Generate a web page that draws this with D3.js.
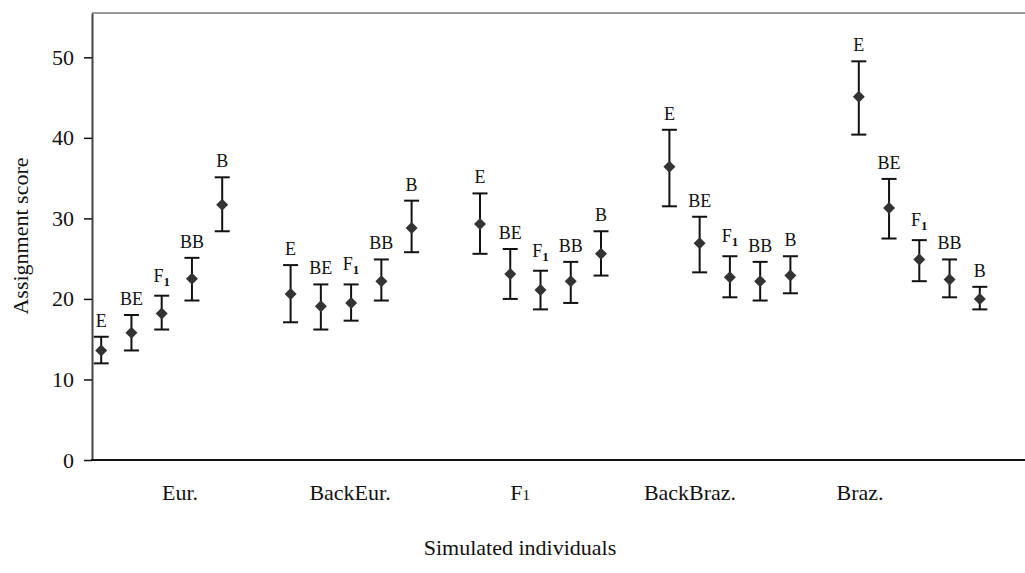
<!DOCTYPE html>
<html>
<head>
<meta charset="utf-8">
<script src="https://cdn.jsdelivr.net/npm/d3@7"></script>
<style>
  body { margin: 0; background: #fff; }
  text { font-family: "Liberation Serif", "Times New Roman", serif; fill: #111; }
</style>
</head>
<body>
<svg width="1025" height="573"></svg>
<script>
const width = 1025;
const height = 573;

// groups on the x axis and the five individuals inside each group
const groups = ['Eur.', 'BackEur.', 'F1', 'BackBraz.', 'Braz.'];
const levels = ['E', 'BE', 'F1', 'BB', 'B'];

// mean assignment score and error bar ends (order = levels)
const eurMean  = [13.6, 15.8, 18.2, 22.5, 31.7];
const eurLow   = [12.0, 13.6, 16.2, 19.8, 28.4];
const eurHigh  = [15.3, 18.0, 20.4, 25.1, 35.1];

const backEurMean = [20.6, 19.1, 19.5, 22.2, 28.8];
const backEurLow  = [17.1, 16.2, 17.3, 19.8, 25.8];
const backEurHigh = [24.2, 21.8, 21.8, 24.9, 32.2];

const f1Mean = [29.3, 23.1, 21.1, 22.2, 25.6];
const f1Low  = [25.6, 20.0, 18.7, 19.5, 22.9];
const f1High = [33.1, 26.2, 23.5, 24.6, 28.4];

const backBrazMean = [36.4, 26.9, 22.7, 22.2, 22.9];
const backBrazLow  = [31.5, 23.3, 20.2, 19.8, 20.7];
const backBrazHigh = [41.0, 30.2, 25.3, 24.6, 25.3];

const brazMean = [45.1, 31.3, 24.9, 22.4, 20.0];
const brazLow  = [40.4, 27.5, 22.2, 20.2, 18.7];
const brazHigh = [49.5, 34.9, 27.3, 24.9, 21.5];

const yTicks = [0, 10, 20, 30, 40, 50];

const series = [
    [eurMean, eurLow, eurHigh],
    [backEurMean, backEurLow, backEurHigh],
    [f1Mean, f1Low, f1High],
    [backBrazMean, backBrazLow, backBrazHigh],
    [brazMean, brazLow, brazHigh]
];

const data = [];
groups.forEach((g, gi) => {
    levels.forEach((l, li) => {
        data.push({
            group: g,
            level: l,
            mean: series[gi][0][li],
            low: series[gi][1][li],
            high: series[gi][2][li]
        });
    });
});

const svg = d3.select('svg');

const plotLeft = 92;
const plotTop = 13;
const plotBottom = 460;

const yScale = d3.scaleLinear()
    .domain([0, 55.5])
    .range([plotBottom, plotTop]);

// where the markers sit
const xGroup = d3.scaleBand()
    .domain(groups)
    .range([67, 1014])
    .padding(0);

const xInner = d3.scalePoint()
    .domain(levels)
    .range([-60.5, 60.5]);

// the category labels are spaced a bit tighter than the marker groups
const xLabel = d3.scaleBand()
    .domain(groups)
    .range([95, 945]);

const xPos = d => xGroup(d.group) + xGroup.bandwidth() / 2 + xInner(d.level);

// frame
svg.append('line')
    .attr('x1', plotLeft).attr('x2', width)
    .attr('y1', plotTop).attr('y2', plotTop)
    .attr('stroke', '#999').attr('stroke-width', 2);

const yAxis = d3.axisLeft(yScale)
    .tickValues(yTicks)
    .tickSize(8)
    .tickSizeOuter(0)
    .tickPadding(10);

const yAxisG = svg.append('g')
    .attr('transform', 'translate(' + plotLeft + ', 0)')
    .call(yAxis);

yAxisG.select('.domain').attr('stroke', '#444').attr('stroke-width', 2);
yAxisG.selectAll('.tick line').attr('stroke', '#111').attr('stroke-width', 1.5);
yAxisG.selectAll('.tick text')
    .attr('font-size', 22)
    .attr('font-family', '"Liberation Serif", "Times New Roman", serif')
    .attr('fill', '#111');

svg.append('line')
    .attr('x1', plotLeft - 1).attr('x2', width)
    .attr('y1', plotBottom).attr('y2', plotBottom)
    .attr('stroke', '#111').attr('stroke-width', 2);

// category labels
const xAxis = d3.axisBottom(xLabel).tickSize(0).tickPadding(0);
const xAxisG = svg.append('g')
    .attr('transform', 'translate(0, ' + plotBottom + ')')
    .call(xAxis);
xAxisG.select('.domain').remove();
xAxisG.selectAll('.tick text')
    .attr('font-size', 22)
    .attr('font-family', '"Liberation Serif", "Times New Roman", serif')
    .attr('fill', '#111')
    .attr('y', 40)
    .attr('dy', 0)
    .each(function(d) {
        if (d === 'F1') {
            const t = d3.select(this).text('');
            t.append('tspan').text('F');
            t.append('tspan').attr('font-size', 15).text('1');
        }
    });

// axis titles
svg.append('text')
    .attr('x', 520)
    .attr('y', 555)
    .attr('text-anchor', 'middle')
    .attr('font-size', 22)
    .text('Simulated individuals');

svg.append('text')
    .attr('transform', 'translate(28, 236) rotate(-90)')
    .attr('text-anchor', 'middle')
    .attr('font-size', 22)
    .text('Assignment score');

// error bars
const capHalf = 7.5;
const bars = svg.append('g').attr('stroke', '#111').attr('stroke-width', 2);

bars.selectAll('.stem')
    .data(data)
    .enter()
    .append('line')
    .attr('x1', xPos).attr('x2', xPos)
    .attr('y1', d => yScale(d.low))
    .attr('y2', d => yScale(d.high));

bars.selectAll('.cap-top')
    .data(data)
    .enter()
    .append('line')
    .attr('x1', d => xPos(d) - capHalf).attr('x2', d => xPos(d) + capHalf)
    .attr('y1', d => yScale(d.high)).attr('y2', d => yScale(d.high));

bars.selectAll('.cap-bottom')
    .data(data)
    .enter()
    .append('line')
    .attr('x1', d => xPos(d) - capHalf).attr('x2', d => xPos(d) + capHalf)
    .attr('y1', d => yScale(d.low)).attr('y2', d => yScale(d.low));

// diamond markers
const diamond = d3.symbol().type(d3.symbolSquare).size(72);
svg.selectAll('.marker')
    .data(data)
    .enter()
    .append('path')
    .attr('d', diamond)
    .attr('fill', '#333')
    .attr('transform', d => 'translate(' + xPos(d) + ', ' + yScale(d.mean) + ') rotate(45)');

// labels above each bar
svg.selectAll('.pt-label')
    .data(data)
    .enter()
    .append('text')
    .attr('x', d => xPos(d))
    .attr('y', d => yScale(d.high) - (d.level === 'F1' ? 14 : 10))
    .attr('text-anchor', 'middle')
    .attr('font-size', 18)
    .attr('fill', '#222')
    .each(function(d) {
        const t = d3.select(this);
        if (d.level === 'F1') {
            t.append('tspan').text('F');
            t.append('tspan')
                .attr('font-size', 13)
                .attr('font-weight', 'bold')
                .attr('dy', 4)
                .text('1');
        } else {
            t.text(d.level);
        }
    });
</script>
</body>
</html>
